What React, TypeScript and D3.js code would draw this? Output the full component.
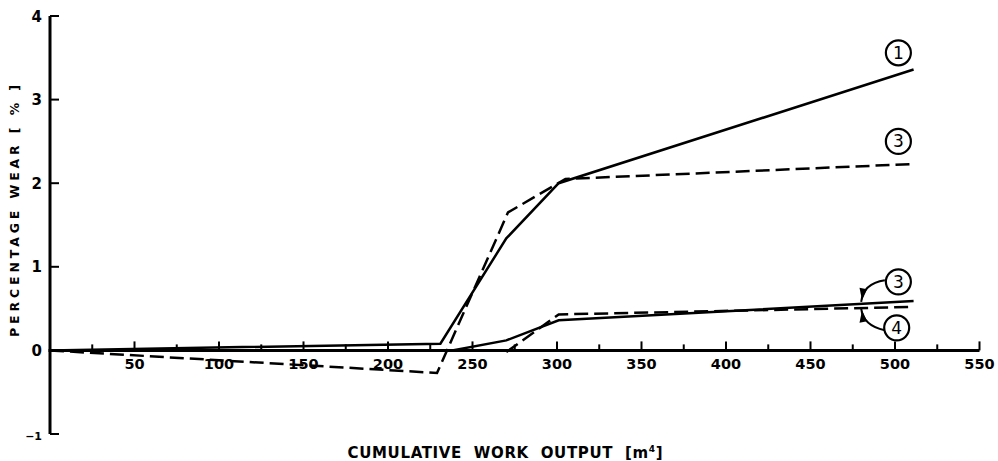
import React from 'react'
import * as d3 from 'd3'

// wear curves, x = cumulative work output [m4], y = percentage wear [%]
const curve1Solid: [number, number][] = [[0, 0], [231, 0.08], [270, 1.34], [301, 2.0], [511, 3.36]]
const curve3Dashed: [number, number][] = [[0, 0], [229, -0.27], [271, 1.65], [305, 2.05], [511, 2.23]]
const lowerSolid: [number, number][] = [[0, 0], [238, 0], [270, 0.12], [301, 0.36], [511, 0.59]]
const lowerDashed: [number, number][] = [[270, -0.02], [301, 0.43], [511, 0.52]]

const xMajorTicks = [50, 100, 150, 200, 250, 300, 350, 400, 450, 500, 550]
const xMinorTicks = [25, 75, 125, 175, 225, 275, 325, 375, 425, 475, 525]
const yTicks = [4, 3, 2, 1, 0, -1]

const W = 998
const H = 461
const FONT = '"DejaVu Sans", sans-serif'

const App: React.FC = () => {
  const x = d3.scaleLinear().domain([0, 550]).range([50, 979.5])
  const y = d3.scaleLinear().domain([-1, 4]).range([434, 16])

  const line = d3
    .line<[number, number]>()
    .x(d => x(d[0]))
    .y(d => y(d[1]))

  const dash = '14,6'

  // callout label positions (data space)
  const callouts = [
    { label: '1', cx: 502, cy: 3.56 },
    { label: '3', cx: 502, cy: 2.5 },
    { label: '3', cx: 502, cy: 0.82 },
    { label: '4', cx: 501, cy: 0.27 },
  ]

  return (
    <svg width={W} height={H} style={{ position: 'absolute', left: 0, top: 0, background: '#fff' }}>
      {/* axes */}
      <line x1={x(0)} x2={x(0)} y1={y(4)} y2={y(-1)} stroke="#000" strokeWidth={3} />
      <line x1={x(0) - 1.5} x2={x(550)} y1={y(0)} y2={y(0)} stroke="#000" strokeWidth={3} />
      {yTicks.map(t => (
        <g key={t}>
          <line x1={x(0)} x2={x(0) + 9} y1={y(t)} y2={y(t)} stroke="#000" strokeWidth={2} />
          <text
            x={x(0) - 8}
            y={y(t) + 5.5}
            textAnchor="end"
            fontFamily={FONT}
            fontWeight="bold"
            fontSize={t === -1 ? 11 : 15}
          >
            {t === -1 ? '\u2212' + '1' : t}
          </text>
        </g>
      ))}
      {xMajorTicks.map(t => (
        <g key={t}>
          <line x1={x(t)} x2={x(t)} y1={y(0)} y2={y(0) - 9} stroke="#000" strokeWidth={2} />
          <text x={x(t)} y={369} textAnchor="middle" fontFamily={FONT} fontWeight="bold" fontSize={14.5}>
            {t}
          </text>
        </g>
      ))}
      {xMinorTicks.map(t => (
        <line key={t} x1={x(t)} x2={x(t)} y1={y(0)} y2={y(0) - 6} stroke="#000" strokeWidth={2} />
      ))}

      {/* data lines */}
      <path d={line(curve1Solid) ?? ''} fill="none" stroke="#000" strokeWidth={2.5} />
      <path d={line(curve3Dashed) ?? ''} fill="none" stroke="#000" strokeWidth={2.5} strokeDasharray={dash} />
      <path d={line(lowerSolid) ?? ''} fill="none" stroke="#000" strokeWidth={2.5} />
      <path d={line(lowerDashed) ?? ''} fill="none" stroke="#000" strokeWidth={2.5} strokeDasharray={dash} />

      {/* callouts */}
      {callouts.map((c, i) => (
        <g key={i}>
          <circle cx={x(c.cx)} cy={y(c.cy)} r={12.5} fill="#fff" stroke="#000" strokeWidth={2.2} />
          <text
            x={x(c.cx)}
            y={y(c.cy) + 6}
            textAnchor="middle"
            fontFamily={FONT}
            fontSize={17}
          >
            {c.label}
          </text>
        </g>
      ))}
      {/* curved arrows from lower callouts */}
      <path
        d={`M${x(494)},${y(0.84)} Q${x(481)},${y(0.8)} ${x(480)},${y(0.58)}`}
        fill="none"
        stroke="#000"
        strokeWidth={2}
      />
      <path
        d={`M${x(494)},${y(0.24)} Q${x(481)},${y(0.3)} ${x(480)},${y(0.5)}`}
        fill="none"
        stroke="#000"
        strokeWidth={2}
      />
      <path
        d={`M${x(480.5)},${y(0.6)} L${x(479)},${y(0.75)} L${x(483.5)},${y(0.73)} Z`}
        fill="#000"
      />
      <path
        d={`M${x(480.5)},${y(0.48)} L${x(479)},${y(0.33)} L${x(483.5)},${y(0.35)} Z`}
        fill="#000"
      />

      {/* axis titles */}
      <text
        transform={`translate(19,211) rotate(-90)`}
        textAnchor="middle"
        fontFamily={FONT}
        fontWeight="bold"
        fontSize={12.5}
        textLength={252}
        lengthAdjust="spacing"
      >
        PERCENTAGE  WEAR  [ % ]
      </text>
      <text
        x={505}
        y={458}
        textAnchor="middle"
        fontFamily={FONT}
        fontWeight="bold"
        fontSize={15}
        textLength={315}
        lengthAdjust="spacing"
        style={{ whiteSpace: 'pre' }}
      >
        CUMULATIVE  WORK  OUTPUT  [m<tspan dy={-6} fontSize={9}>4</tspan><tspan dy={6}>]</tspan>
      </text>
    </svg>
  )
}

export default App
